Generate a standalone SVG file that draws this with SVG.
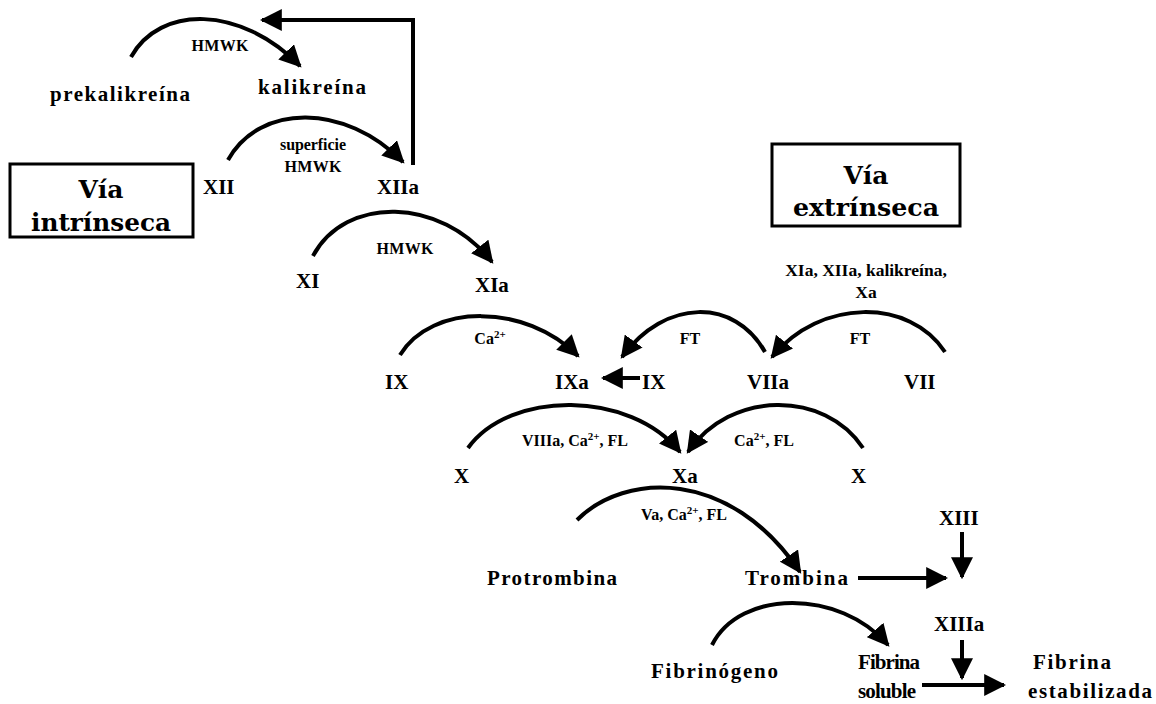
<svg xmlns="http://www.w3.org/2000/svg" width="1156" height="704" viewBox="0 0 1156 704">
  <style>
    .t { font-family: "Liberation Serif", "Times New Roman", serif; font-weight: bold; font-size: 21px; fill: #000; }
    .s { font-family: "Liberation Serif", "Times New Roman", serif; font-weight: bold; font-size: 16px; fill: #000; text-anchor: middle; }
    .m { font-family: "Liberation Serif", "Times New Roman", serif; font-weight: bold; font-size: 17.5px; fill: #000; text-anchor: middle; }
    .b { font-family: "DejaVu Serif", serif; font-weight: bold; font-size: 25px; fill: #000; text-anchor: middle; }
    .box { fill: #fff; stroke: #000; stroke-width: 3; }
    .c { fill: none; stroke: #000; stroke-width: 4; marker-end: url(#ah); }
  </style>
  <defs>
    <marker id="ah" viewBox="0 0 10 10" refX="9" refY="5" markerWidth="22" markerHeight="22" markerUnits="userSpaceOnUse" orient="auto">
      <path d="M0,0 L10,5 L0,10 z" fill="#000"/>
    </marker>
  </defs>

  <!-- pathway boxes -->
  <g id="via-intrinseca">
    <rect class="box" x="10" y="164" width="183" height="73"/>
    <text class="b" x="101" y="198">Vía</text>
    <text class="b" x="101" y="231" textLength="140" lengthAdjust="spacingAndGlyphs">intrínseca</text>
  </g>
  <g id="via-extrinseca">
    <rect class="box" x="772" y="144" width="188" height="82"/>
    <text class="b" x="866" y="184">Vía</text>
    <text class="b" x="866" y="216" textLength="146" lengthAdjust="spacingAndGlyphs">extrínseca</text>
  </g>

  <!-- connectors -->
  <g id="connectors">
    <path class="c" d="M131,57 C160,5 240,5 300,66"/>
    <path class="c" d="M413,165 L413,20 L262,20"/>
    <path class="c" d="M228,160 C260,103 345,103 403,162"/>
    <path class="c" d="M313,256 C345,196 440,196 492,262"/>
    <path class="c" d="M400,355 C432,303 525,303 578,356"/>
    <path class="c" d="M765,352 C735,298 665,298 622,357"/>
    <path class="c" d="M945,352 C910,298 820,298 772,357"/>
    <path class="c" d="M640,378 L603,378"/>
    <path class="c" d="M468,448 C510,390 630,390 680,452"/>
    <path class="c" d="M863,448 C825,390 730,390 688,452"/>
    <path class="c" d="M577,520 C625,472 730,468 800,572"/>
    <path class="c" d="M858,578 L946,578"/>
    <path class="c" d="M962,532 L962,577"/>
    <path class="c" d="M962,640 L962,678"/>
    <path class="c" d="M712,645 C740,589 840,589 888,645"/>
    <path class="c" d="M922,685 L1004,685"/>
  </g>

  <!-- catalyst / cofactor labels -->
  <g id="cofactors">
    <text class="s" x="220" y="51" textLength="57" lengthAdjust="spacing">HMWK</text>
    <text class="s" x="313" y="150" textLength="66" lengthAdjust="spacing">superficie</text>
    <text class="s" x="313" y="172" textLength="57" lengthAdjust="spacing">HMWK</text>
    <text class="s" x="405" y="254" textLength="57" lengthAdjust="spacing">HMWK</text>
    <text class="s" x="490" y="344">Ca<tspan font-size="11" dy="-6">2+</tspan></text>
    <text class="s" x="690" y="344">FT</text>
    <text class="s" x="860" y="344">FT</text>
    <text class="s" x="575" y="446">VIIIa, Ca<tspan font-size="11" dy="-6">2+</tspan><tspan dy="6">, FL</tspan></text>
    <text class="s" x="764" y="446">Ca<tspan font-size="11" dy="-6">2+</tspan><tspan dy="6">, FL</tspan></text>
    <text class="s" x="684" y="520">Va, Ca<tspan font-size="11" dy="-6">2+</tspan><tspan dy="6">, FL</tspan></text>
    <text class="m" x="866" y="276">XIa, XIIa, kalikreína,</text>
    <text class="m" x="866" y="298">Xa</text>
  </g>

  <!-- factors -->
  <g id="prekalikreina"><text class="t" x="50" y="101" textLength="140" lengthAdjust="spacing">prekalikreína</text></g>
  <g id="kalikreina"><text class="t" x="258" y="94" textLength="108" lengthAdjust="spacing">kalikreína</text></g>
  <g id="xii"><text class="t" x="203" y="194">XII</text></g>
  <g id="xiia"><text class="t" x="377" y="194">XIIa</text></g>
  <g id="xi"><text class="t" x="296" y="288">XI</text></g>
  <g id="xia"><text class="t" x="475" y="292">XIa</text></g>
  <g id="ix"><text class="t" x="385" y="389">IX</text></g>
  <g id="ixa"><text class="t" x="555" y="389">IXa</text></g>
  <g id="ix-ext"><text class="t" x="642" y="389">IX</text></g>
  <g id="viia"><text class="t" x="747" y="389">VIIa</text></g>
  <g id="vii"><text class="t" x="904" y="389">VII</text></g>
  <g id="x-int"><text class="t" x="454" y="483">X</text></g>
  <g id="xa"><text class="t" x="672" y="483">Xa</text></g>
  <g id="x-ext"><text class="t" x="851" y="483">X</text></g>
  <g id="protrombina"><text class="t" x="487" y="585" textLength="130" lengthAdjust="spacing">Protrombina</text></g>
  <g id="trombina"><text class="t" x="745" y="585" textLength="103" lengthAdjust="spacing">Trombina</text></g>
  <g id="xiii"><text class="t" x="939" y="525">XIII</text></g>
  <g id="xiiia"><text class="t" x="934" y="631">XIIIa</text></g>
  <g id="fibrinogeno"><text class="t" x="651" y="678" textLength="127" lengthAdjust="spacing">Fibrinógeno</text></g>
  <g id="fibrina-soluble">
    <text class="t" x="858" y="669" textLength="62" lengthAdjust="spacing">Fibrina</text>
    <text class="t" x="858" y="698" textLength="58" lengthAdjust="spacing">soluble</text>
  </g>
  <g id="fibrina-estabilizada">
    <text class="t" x="1033" y="669" textLength="78" lengthAdjust="spacing">Fibrina</text>
    <text class="t" x="1028" y="698" textLength="124" lengthAdjust="spacing">estabilizada</text>
  </g>
</svg>
